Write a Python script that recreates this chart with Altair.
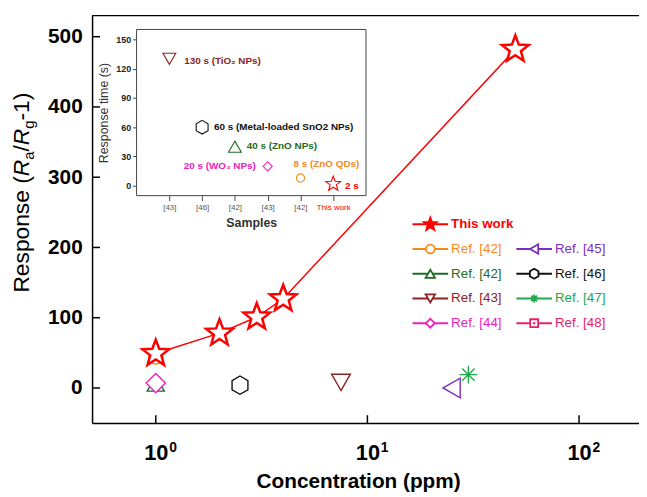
import json
import altair as alt
import pandas as pd

# ---------------- data ----------------
work_conc = [1, 2, 3, 4, 50]
work_resp = [49, 78, 101, 127, 482]

ref_names = ["Ref. [42] ZnO QDs", "Ref. [42] ZnO NPs", "Ref. [43]", "Ref. [44]",
             "Ref. [45]", "Ref. [46]", "Ref. [47]"]
ref_conc = [1, 1, 7.5, 1, 25, 2.5, 30]
ref_resp = [44, 6, 8, 7, 0, 4, 19]

inset_samples = ["[43]", "[46]", "[42]", "[43]", "[42]", "This work"]
inset_time = [130, 60, 40, 20, 8, 2]
inset_notes = ["130 s (TiO\u2082 NPs)", "60 s (Metal-loaded SnO2 NPs)", "40 s (ZnO NPs)",
               "20 s (WO\u2083 NPs)", "8 s (ZnO QDs)", "2 s"]

legend_labels = ["This work", "Ref. [42]", "Ref. [42]", "Ref. [43]", "Ref. [44]",
                 "Ref. [45]", "Ref. [46]", "Ref. [47]", "Ref. [48]"]

x_tick_values = [1, 10, 100]
x_tick_exponents = ["0", "1", "2"]
y_tick_values = [0, 100, 200, 300, 400, 500]
inset_y_tick_values = [0, 30, 60, 90, 120, 150]

# ---------------- styles ----------------
FONT = "Liberation Sans"
RED = "#FF0000"
ORANGE = "#F58A1F"
DKGREEN = "#1E6B23"
BROWN = "#8B2323"
MAGENTA = "#EE22BB"
PURPLE = "#7A2FC0"
BLACK = "#111111"
GREEN = "#22A94B"
CRIMSON = "#E62169"

STAR = ("M0,-1L0.247,-0.34L0.951,-0.309L0.399,0.13L0.588,0.809L0,0.42"
        "L-0.588,0.809L-0.399,0.13L-0.951,-0.309L-0.247,-0.34Z")
HEX = "M0,-1L0.866,-0.5L0.866,0.5L0,1L-0.866,0.5L-0.866,-0.5Z"
AST = "M0,-1L0,1M-1,0L1,0M-0.7,-0.7L0.7,0.7M-0.7,0.7L0.7,-0.7"

W, H = 553, 412

ref_shapes = ["circle", "triangle-up", "triangle-down", "diamond", "triangle-left", HEX, AST]
ref_colors = [ORANGE, DKGREEN, BROWN, MAGENTA, PURPLE, BLACK, GREEN]
ref_sizes = [200, 300, 361, 380, 400, 342, 324]

inset_shapes = ["triangle-down", HEX, "triangle-up", "diamond", "circle", STAR]
inset_colors = [BROWN, BLACK, DKGREEN, MAGENTA, ORANGE, RED]
inset_sizes = [169, 192, 169, 86, 70, 250]
inset_note_style = [(15, 2, "left"), (12, 0, "left"), (12, -1, "left"),
                    (-12, 0, "right"), (-7, -14, "left"), (12, 2, "left")]

legend_colors = [RED, ORANGE, DKGREEN, BROWN, MAGENTA, PURPLE, BLACK, GREEN, CRIMSON]
legend_shapes = [STAR, "circle", "triangle-up", "triangle-down", "diamond",
                 "triangle-left", HEX, AST, "square"]
legend_sizes = [190, 81, 90, 90, 81, 90, 100, 64, 64]
legend_fills = [RED] + ["white"] * 8
leg_col = [0, 0, 0, 0, 0, 1, 1, 1, 1]
leg_row = [0, 1, 2, 3, 4, 1, 2, 3, 4]

# ---------------- main plot ----------------
xs = alt.Scale(type="log", domain=[0.5, 192])
ys = alt.Scale(domain=[-50, 530])
X_AX = alt.Axis(values=x_tick_values, labelExpr="'10'", labelFontSize=22, labelFontWeight="bold",
                labelColor="black", labelPadding=20, tickSize=0, grid=False,
                domainColor="black", domainWidth=1.5, title="Concentration (ppm)",
                titleFontSize=21, titleFontWeight="bold", titleColor="black",
                titleX=269, titleY=65, titleAlign="center", titleBaseline="alphabetic")
Y_AX = alt.Axis(values=y_tick_values, labelFontSize=21, labelFontWeight="bold", labelColor="black",
                labelPadding=10, tickSize=0, grid=False, domainColor="black", domainWidth=1.5,
                title=None)

df_ref = pd.DataFrame({"name": ref_names, "conc": ref_conc, "resp": ref_resp,
                       "shape": ref_shapes, "color": ref_colors, "size": ref_sizes})
df_work = pd.DataFrame({"conc": work_conc, "resp": work_resp})
df_xt = pd.DataFrame({"conc": x_tick_values, "exp": x_tick_exponents})
df_yt = pd.DataFrame({"resp": y_tick_values})

X = alt.X("conc:Q", scale=xs, axis=X_AX)
Y = alt.Y("resp:Q", scale=ys, axis=Y_AX)

refs = alt.Chart(df_ref).mark_point(filled=True, fill="white", strokeWidth=1.4, opacity=1).encode(
    x=X, y=Y,
    shape=alt.Shape("shape:N", scale=None),
    stroke=alt.Stroke("color:N", scale=None),
    size=alt.Size("size:Q", scale=None),
)
line = alt.Chart(df_work).mark_line(color=RED, strokeWidth=1.5).encode(x=X, y=Y)
stars = alt.Chart(df_work).mark_point(shape=STAR, size=800, filled=True, fill="white",
                                      stroke=RED, strokeWidth=2.5, opacity=1).encode(x=X, y=Y)
xticks = alt.Chart(df_xt).mark_rule(color="black", strokeWidth=1.5).encode(
    x=X, y=alt.value(H), y2=alt.value(H - 8))
yticks = alt.Chart(df_yt).mark_rule(color="black", strokeWidth=1.5).encode(
    y=Y, x=alt.value(0), x2=alt.value(8))
exps = alt.Chart(df_xt).mark_text(align="left", baseline="alphabetic", dx=13.5, fontSize=14,
                                  fontWeight="bold", color="black").encode(
    x=X, y=alt.value(H + 29), text="exp:N")

main = alt.layer(refs, line, stars, xticks, yticks, exps)

# ---------------- inset ----------------
ixs = alt.Scale(domain=[0, 7], range=[45, 277])
iys = alt.Scale(domain=[-10, 160], range=[182, 14])
lab_expr = json.dumps([""] + inset_samples) + "[datum.value]"
IX_AX = alt.Axis(orient="bottom", offset=-230, values=[1, 2, 3, 4, 5, 6], labelExpr=lab_expr,
                 labelFontSize=8, labelPadding=3,
                 labelColor={"condition": {"test": "datum.value == 6", "value": RED}, "value": "#555555"},
                 tickSize=5, tickColor="#444444", domain=False, grid=False,
                 title="Samples", titleFontSize=12.5, titleFontWeight="bold", titleColor="#333333",
                 titlePadding=5)
IY_AX = alt.Axis(orient="left", offset=-45, values=inset_y_tick_values, labelFontSize=9,
                 labelFontWeight="bold", labelColor="#222222", labelPadding=2, tickSize=4,
                 tickColor="#444444", domain=False, grid=False,
                 title="Response time (s)", titleFontSize=12.5, titleFontWeight="normal",
                 titleColor="#333333", titlePadding=5)

IX = alt.X("pos:Q", scale=ixs, axis=IX_AX)
IY = alt.Y("time:Q", scale=iys, axis=IY_AX)

df_in = pd.DataFrame({"pos": list(range(1, 7)), "sample": inset_samples, "time": inset_time,
                      "note": inset_notes, "shape": inset_shapes, "color": inset_colors,
                      "size": inset_sizes})
df_frame = pd.DataFrame({"pos": [0], "pos2": [7], "time": [-10], "time2": [160]})

frame = alt.Chart(df_frame).mark_rect(fill="white", stroke="#444444", strokeWidth=1).encode(
    x=IX, x2="pos2:Q", y=IY, y2="time2:Q")
in_pts = alt.Chart(df_in).mark_point(filled=True, fill="white", strokeWidth=1.1, opacity=1).encode(
    x=IX, y=IY,
    shape=alt.Shape("shape:N", scale=None),
    stroke=alt.Stroke("color:N", scale=None),
    size=alt.Size("size:Q", scale=None),
)
notes = []
for i, (dx, dy, al) in enumerate(inset_note_style):
    notes.append(
        alt.Chart(df_in.iloc[[i]]).mark_text(dx=dx, dy=dy, align=al, baseline="middle", fontSize=10,
                                             fontWeight="bold", color=inset_colors[i]).encode(
            x=IX, y=IY, text="note:N"))
inset = alt.layer(frame, in_pts, *notes)

# ---------------- overlay: frame top, legend, y title ----------------
leg = pd.DataFrame({"label": legend_labels, "color": legend_colors, "shape": legend_shapes,
                    "size": legend_sizes, "fill": legend_fills})
LEG_X = [324, 429]
leg["x0"] = [LEG_X[c] for c in leg_col]
leg["x1"] = leg["x0"] + 36
leg["xm"] = leg["x0"] + 18
leg["xt"] = leg["x0"] + 39
leg["y"] = [211 + r * 25 for r in leg_row]

PX = lambda f: alt.X(f, scale=None, axis=None)
PY = lambda f: alt.Y(f, scale=None, axis=None)

one = pd.DataFrame({"a": [0]})
top_rule = alt.Chart(one).mark_rule(color="black", strokeWidth=1.5).encode(
    x=alt.value(0), x2=alt.value(W + 5), y=alt.value(0))

leg_lines = alt.Chart(leg).mark_rule(strokeWidth=2).encode(
    x=PX("x0:Q"), x2="x1:Q", y=PY("y:Q"), color=alt.Color("color:N", scale=None))
leg_pts = alt.Chart(leg).mark_point(filled=True, strokeWidth=1.8, opacity=1).encode(
    x=PX("xm:Q"), y=PY("y:Q"),
    shape=alt.Shape("shape:N", scale=None),
    stroke=alt.Stroke("color:N", scale=None),
    fill=alt.Fill("fill:N", scale=None),
    size=alt.Size("size:Q", scale=None))
leg_dot = alt.Chart(leg).transform_filter("datum.label == 'Ref. [48]'").mark_point(
    filled=True, shape="square", size=5, color=CRIMSON, opacity=1).encode(x=PX("xm:Q"), y=PY("y:Q"))
leg_txt = alt.Chart(leg).transform_filter("datum.label != 'This work'").mark_text(
    align="left", baseline="middle", fontSize=13.5).encode(
    x=PX("xt:Q"), y=PY("y:Q"), text="label:N", color=alt.Color("color:N", scale=None))
leg_txt_b = alt.Chart(leg).transform_filter("datum.label == 'This work'").mark_text(
    align="left", baseline="middle", fontSize=13.5, fontWeight="bold").encode(
    x=PX("xt:Q"), y=PY("y:Q"), text="label:N", color=alt.Color("color:N", scale=None))

# y title with italic R and subscripts (regular weight)
NW = {"R": 722, "e": 556, "s": 500, "p": 556, "o": 556, "n": 556, " ": 278, "(": 333,
      "a": 556, "/": 278, "g": 556, "-": 333, "1": 556, ")": 333}
def tw(s, size):
    return sum(NW.get(c, 556) for c in s) * size / 1000.0

TF, SF = 23, 15
pieces = [("Response (", TF, "normal", 0), ("R", TF, "italic", 0), ("a", SF, "normal", 5),
          ("/", TF, "normal", 0), ("R", TF, "italic", 0), ("g", SF, "normal", 5),
          ("-1)", TF, "normal", 0)]
total = sum(tw(p[0], p[1]) for p in pieces)
y_center = 179
cur = y_center + total / 2
XBASE = -64
title_layers = []
for txt, fs, style, shift in pieces:
    title_layers.append(
        alt.Chart(one).mark_text(text=txt, angle=270, align="left", baseline="alphabetic",
                                 fontSize=fs, fontWeight="normal", fontStyle=style, color="black").encode(
            x=alt.value(XBASE + shift), y=alt.value(cur)))
    cur -= tw(txt, fs)

overlay = alt.layer(top_rule, leg_lines, leg_pts, leg_dot, leg_txt, leg_txt_b, *title_layers)

chart = alt.layer(main, inset, overlay).resolve_scale(
    x="independent", y="independent").resolve_axis(x="independent", y="independent").properties(
    width=W, height=H, autosize="none",
    padding={"left": 85, "top": 5, "right": 0, "bottom": 71},
).configure(font=FONT).configure_view(stroke=None)

chart.save("out.html", embed_options={"renderer": "svg", "actions": False})
